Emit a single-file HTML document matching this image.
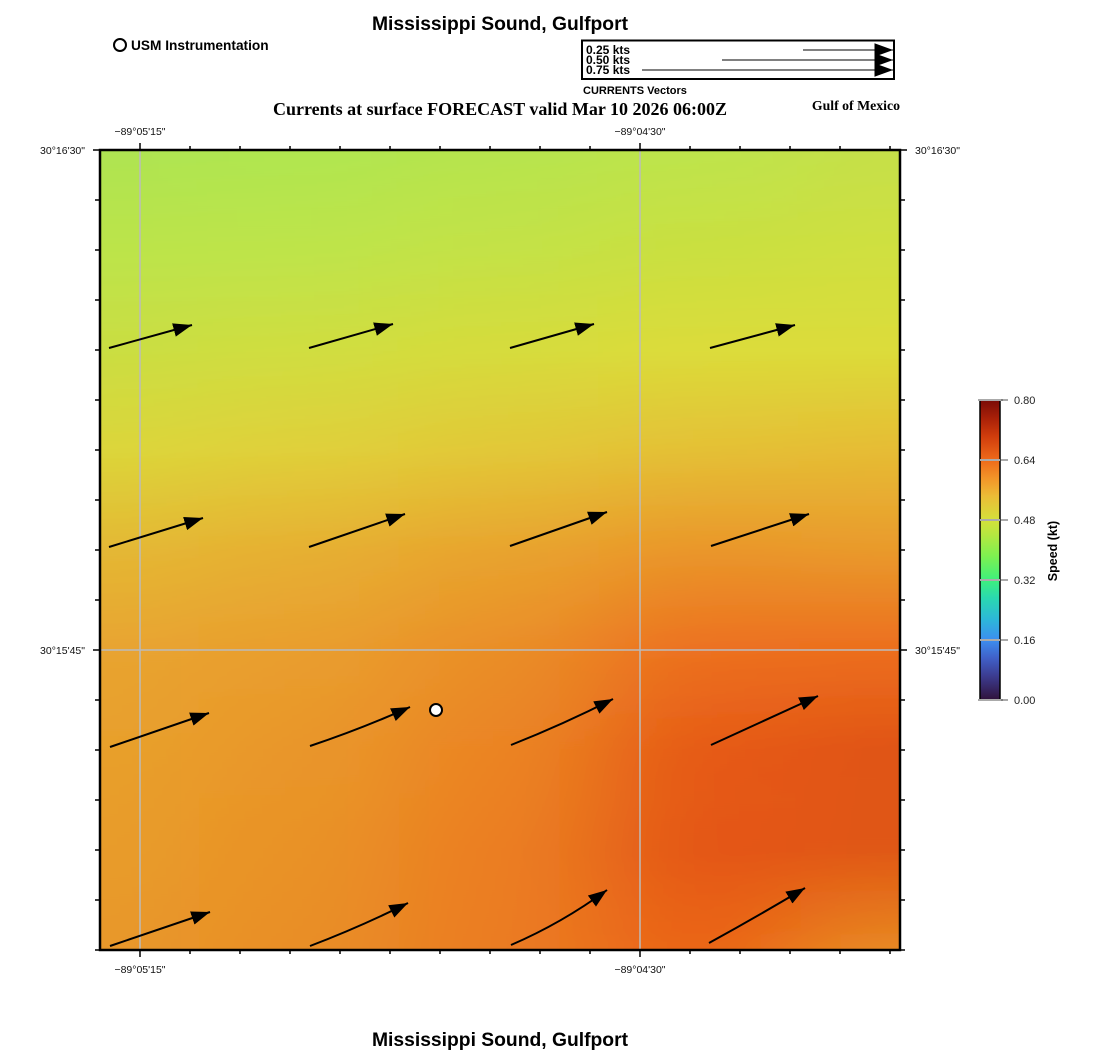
<!DOCTYPE html>
<html><head><meta charset="utf-8"><style>
html,body{margin:0;padding:0;background:#fff;}
svg{display:block;}
text{font-family:"Liberation Sans",Arial,sans-serif;}
.serif{font-family:"Liberation Serif","Times New Roman",serif;}
</style></head><body>
<svg width="1100" height="1050" viewBox="0 0 1100 1050" xmlns="http://www.w3.org/2000/svg">
<defs>
  <linearGradient id="c0" gradientUnits="userSpaceOnUse" x1="0" y1="150" x2="0" y2="950">
    <stop offset="0" stop-color="#aee452"/><stop offset="0.125" stop-color="#bce44a"/>
    <stop offset="0.25" stop-color="#cade42"/><stop offset="0.375" stop-color="#dcd63a"/>
    <stop offset="0.5" stop-color="#e4b834"/><stop offset="0.625" stop-color="#e8a430"/>
    <stop offset="0.75" stop-color="#e8a02c"/><stop offset="0.875" stop-color="#e89c2a"/>
    <stop offset="1" stop-color="#e8982a"/>
  </linearGradient>
  <linearGradient id="c1" gradientUnits="userSpaceOnUse" x1="0" y1="150" x2="0" y2="950">
    <stop offset="0" stop-color="#b0e650"/><stop offset="0.125" stop-color="#bee44a"/>
    <stop offset="0.25" stop-color="#d0de40"/><stop offset="0.375" stop-color="#e0d03a"/>
    <stop offset="0.5" stop-color="#e6b032"/><stop offset="0.625" stop-color="#e99e2e"/>
    <stop offset="0.75" stop-color="#e9962a"/><stop offset="0.875" stop-color="#e99226"/>
    <stop offset="1" stop-color="#e98e26"/>
  </linearGradient>
  <linearGradient id="c2" gradientUnits="userSpaceOnUse" x1="0" y1="150" x2="0" y2="950">
    <stop offset="0" stop-color="#b6e44e"/><stop offset="0.125" stop-color="#c4e246"/>
    <stop offset="0.25" stop-color="#d6dc3c"/><stop offset="0.375" stop-color="#e2c838"/>
    <stop offset="0.5" stop-color="#e8a42e"/><stop offset="0.625" stop-color="#ea8e28"/>
    <stop offset="0.75" stop-color="#eb8424"/><stop offset="0.875" stop-color="#eb7e22"/>
    <stop offset="1" stop-color="#eb7c22"/>
  </linearGradient>
  <linearGradient id="c3" gradientUnits="userSpaceOnUse" x1="0" y1="150" x2="0" y2="950">
    <stop offset="0" stop-color="#bee44c"/><stop offset="0.125" stop-color="#cae040"/>
    <stop offset="0.25" stop-color="#dcdc3a"/><stop offset="0.375" stop-color="#e4c036"/>
    <stop offset="0.5" stop-color="#ea962a"/><stop offset="0.625" stop-color="#ec7020"/>
    <stop offset="0.75" stop-color="#e65a16"/><stop offset="0.875" stop-color="#e45614"/>
    <stop offset="1" stop-color="#eb6418"/>
  </linearGradient>
  <linearGradient id="c4" gradientUnits="userSpaceOnUse" x1="0" y1="150" x2="0" y2="950">
    <stop offset="0" stop-color="#c6e048"/><stop offset="0.125" stop-color="#d0e040"/>
    <stop offset="0.25" stop-color="#dcdc3a"/><stop offset="0.375" stop-color="#e6bc34"/>
    <stop offset="0.5" stop-color="#e99a2c"/><stop offset="0.625" stop-color="#ec6e1e"/>
    <stop offset="0.75" stop-color="#e05414"/><stop offset="0.875" stop-color="#e05814"/>
    <stop offset="1" stop-color="#e88a22"/>
  </linearGradient>
  <filter id="hb" filterUnits="userSpaceOnUse" x="-300" y="100" width="1700" height="900">
    <feGaussianBlur stdDeviation="60 0"/>
  </filter>
  <clipPath id="plot"><rect x="100" y="150" width="800" height="800"/></clipPath>
  <linearGradient id="cb" gradientUnits="userSpaceOnUse" x1="0" y1="700" x2="0" y2="400">
    <stop offset="0" stop-color="#30123b"/><stop offset="0.08" stop-color="#3c3c90"/>
    <stop offset="0.14" stop-color="#4060c8"/><stop offset="0.20" stop-color="#3c8ef0"/>
    <stop offset="0.27" stop-color="#2cb8d8"/><stop offset="0.34" stop-color="#2ad8b0"/>
    <stop offset="0.40" stop-color="#3ef07c"/><stop offset="0.48" stop-color="#7ef050"/>
    <stop offset="0.55" stop-color="#b4e840"/><stop offset="0.60" stop-color="#d4e03a"/>
    <stop offset="0.68" stop-color="#ecbc36"/><stop offset="0.74" stop-color="#f29428"/>
    <stop offset="0.80" stop-color="#ee6a1a"/><stop offset="0.88" stop-color="#d03c0c"/>
    <stop offset="0.94" stop-color="#a82008"/><stop offset="1" stop-color="#7a0c06"/>
  </linearGradient>
  <marker id="ah" markerUnits="userSpaceOnUse" markerWidth="20" markerHeight="14" refX="15" refY="5.5" orient="auto" viewBox="0 0 16 11">
    <path d="M0,0 L15,5.5 L0,11 z" fill="#000"/>
  </marker>
</defs>

<!-- titles -->
<text x="500" y="30" text-anchor="middle" font-size="19.3" font-weight="bold">Mississippi Sound, Gulfport</text>
<text x="500" y="1046" text-anchor="middle" font-size="19.3" font-weight="bold">Mississippi Sound, Gulfport</text>
<circle cx="120" cy="45" r="6" fill="#fff" stroke="#000" stroke-width="2"/>
<text x="131" y="50" font-size="13.7" font-weight="bold">USM Instrumentation</text>

<!-- vector legend -->
<rect x="582" y="40.5" width="312" height="38.5" fill="#fff" stroke="#000" stroke-width="2"/>
<text x="586" y="54" font-size="12" font-weight="bold">0.25 kts</text>
<text x="586" y="64" font-size="12" font-weight="bold">0.50 kts</text>
<text x="586" y="74" font-size="12" font-weight="bold">0.75 kts</text>
<line x1="803" y1="50" x2="893" y2="50" stroke="#000" stroke-width="1" marker-end="url(#ah)"/>
<line x1="722" y1="60" x2="893" y2="60" stroke="#000" stroke-width="1" marker-end="url(#ah)"/>
<line x1="642" y1="70" x2="893" y2="70" stroke="#000" stroke-width="1" marker-end="url(#ah)"/>
<text x="583" y="94" font-size="11" font-weight="bold">CURRENTS Vectors</text>
<text class="serif" x="500" y="115" text-anchor="middle" font-size="18" font-weight="bold">Currents at surface FORECAST valid Mar 10 2026 06:00Z</text>
<text class="serif" x="900" y="110" text-anchor="end" font-size="13.8" font-weight="bold">Gulf of Mexico</text>

<!-- field -->
<g clip-path="url(#plot)">
  <g filter="url(#hb)">
    <rect x="-200" y="150" width="400" height="800" fill="url(#c0)"/>
    <rect x="200" y="150" width="200" height="800" fill="url(#c1)"/>
    <rect x="400" y="150" width="200" height="800" fill="url(#c2)"/>
    <rect x="600" y="150" width="200" height="800" fill="url(#c3)"/>
    <rect x="800" y="150" width="400" height="800" fill="url(#c4)"/>
  </g>
  <!-- grid -->
  <line x1="140" y1="150" x2="140" y2="950" stroke="#bbbbbb" stroke-width="1.5"/>
  <line x1="640" y1="150" x2="640" y2="950" stroke="#bbbbbb" stroke-width="1.5"/>
  <line x1="100" y1="650" x2="900" y2="650" stroke="#bbbbbb" stroke-width="1.5"/>
  <!-- arrows -->
  <g stroke="#000" stroke-width="2" fill="none" marker-end="url(#ah)">
    <path d="M109,348 L192,325"/>
    <path d="M309,348 L393,324"/>
    <path d="M510,348 L594,324"/>
    <path d="M710,348 L795,325"/>
    <path d="M109,547 L203,518"/>
    <path d="M309,547 L405,514"/>
    <path d="M510,546 L607,512"/>
    <path d="M711,546 L809,514"/>
    <path d="M110,747 L209,713"/>
    <path d="M310,746 Q361,729 410,707"/>
    <path d="M511,745 Q564,724 613,699"/>
    <path d="M711,745 L818,696"/>
    <path d="M110,946 L210,912"/>
    <path d="M310,946 Q360,927 408,903"/>
    <path d="M511,945 Q562,923 607,890"/>
    <path d="M709,943 Q758,916 805,888"/>
  </g>
  <circle cx="436" cy="710" r="6" fill="#fff" stroke="#000" stroke-width="2"/>
</g>

<!-- frame -->
<rect x="100" y="150" width="800" height="800" fill="none" stroke="#000" stroke-width="2.5"/>
<!-- ticks -->
<g stroke="#000" stroke-width="1.5">
  <path d="M190,150V146 M240,150V146 M290,150V146 M340,150V146 M390,150V146 M440,150V146 M490,150V146 M540,150V146 M590,150V146 M690,150V146 M740,150V146 M790,150V146 M840,150V146 M890,150V146"/>
  <path d="M190,950V954 M240,950V954 M290,950V954 M340,950V954 M390,950V954 M440,950V954 M490,950V954 M540,950V954 M590,950V954 M690,950V954 M740,950V954 M790,950V954 M840,950V954 M890,950V954"/>
  <path d="M140,150V143 M640,150V143 M140,950V957 M640,950V957"/>
  <path d="M100,150H93 M100,650H93 M900,150H907 M900,650H907"/>
  <path d="M100,200H95 M100,250H95 M100,300H95 M100,350H95 M100,400H95 M100,450H95 M100,500H95 M100,550H95 M100,600H95 M100,700H95 M100,750H95 M100,800H95 M100,850H95 M100,900H95 M100,950H95"/>
  <path d="M900,200H905 M900,250H905 M900,300H905 M900,350H905 M900,400H905 M900,450H905 M900,500H905 M900,550H905 M900,600H905 M900,700H905 M900,750H905 M900,800H905 M900,850H905 M900,900H905 M900,950H905"/>
</g>
<g font-size="10.5" fill="#111">
  <text x="140" y="135" text-anchor="middle">−89°05'15"</text>
  <text x="640" y="135" text-anchor="middle">−89°04'30"</text>
  <text x="140" y="973" text-anchor="middle">−89°05'15"</text>
  <text x="640" y="973" text-anchor="middle">−89°04'30"</text>
  <text x="85" y="154" text-anchor="end">30°16'30"</text>
  <text x="85" y="654" text-anchor="end">30°15'45"</text>
  <text x="915" y="154">30°16'30"</text>
  <text x="915" y="654">30°15'45"</text>
</g>

<!-- colorbar -->
<rect x="980" y="400" width="20" height="300" fill="url(#cb)" stroke="#000" stroke-width="1.5"/>
<g stroke="#aaaaaa" stroke-width="2">
  <line x1="978" y1="400" x2="1003" y2="400"/>
  <line x1="980" y1="460" x2="1000" y2="460"/>
  <line x1="980" y1="520" x2="1000" y2="520"/>
  <line x1="980" y1="580" x2="1000" y2="580"/>
  <line x1="980" y1="640" x2="1000" y2="640"/>
  <line x1="978" y1="700" x2="1003" y2="700"/>
</g>
<g stroke="#555" stroke-width="1">
  <path d="M1001,400H1008 M1001,460H1008 M1001,520H1008 M1001,580H1008 M1001,640H1008 M1001,700H1008"/>
</g>
<g font-size="11" fill="#222">
  <text x="1014" y="404">0.80</text>
  <text x="1014" y="464">0.64</text>
  <text x="1014" y="524">0.48</text>
  <text x="1014" y="584">0.32</text>
  <text x="1014" y="644">0.16</text>
  <text x="1014" y="704">0.00</text>
</g>
<text x="0" y="0" font-size="12.5" font-weight="bold" text-anchor="middle" transform="translate(1057,551) rotate(-90)">Speed (kt)</text>
</svg>
</body></html>
